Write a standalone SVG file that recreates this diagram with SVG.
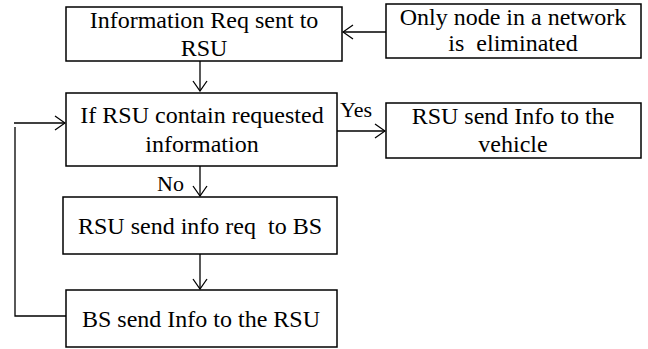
<svg xmlns="http://www.w3.org/2000/svg" width="648" height="349" viewBox="0 0 648 349">
  <style>
    .box { fill: #ffffff; stroke: #000000; stroke-width: 1.5; }
    .lbl { font-family: 'Liberation Serif', 'DejaVu Serif', serif; font-size: 24px; fill: #000000; text-anchor: middle; }
    .tag { font-family: 'Liberation Serif', 'DejaVu Serif', serif; font-size: 22px; fill: #000000; }
    .wire { fill: none; stroke: #000000; stroke-width: 1.3; }
  </style>
  <defs>
    <marker id="open-arrow" markerUnits="userSpaceOnUse" markerWidth="12" markerHeight="16" viewBox="0 0 12 16" refX="11" refY="8" orient="auto">
      <path d="M1,1 L11,8 L1,15" fill="none" stroke="#000000" stroke-width="1.3"/>
    </marker>
  </defs>
  <rect width="648" height="349" fill="#ffffff"/>

  <g id="connectors">
    <line class="wire" x1="386" y1="32" x2="343" y2="32" marker-end="url(#open-arrow)"/>
    <line class="wire" x1="200" y1="61" x2="200" y2="91" marker-end="url(#open-arrow)"/>
    <line class="wire" x1="337" y1="131" x2="385" y2="131" marker-end="url(#open-arrow)"/>
    <line class="wire" x1="200" y1="166" x2="200" y2="196" marker-end="url(#open-arrow)"/>
    <line class="wire" x1="200" y1="254" x2="200" y2="289" marker-end="url(#open-arrow)"/>
    <polyline class="wire" points="66,316 15,316 15,127"/>
    <line class="wire" x1="14" y1="123" x2="65" y2="123" marker-end="url(#open-arrow)"/>
    <text class="tag" x="340" y="117">Yes</text>
    <text class="tag" x="184" y="191" text-anchor="end">No</text>
  </g>

  <g id="info-req">
    <rect class="box" x="66" y="7" width="276" height="54"/>
    <text class="lbl" x="204" y="28">Information Req sent to</text>
    <text class="lbl" x="204" y="56">RSU</text>
  </g>

  <g id="node-eliminated">
    <rect class="box" x="386" y="4" width="255" height="54"/>
    <text class="lbl" x="513" y="25">Only node in a network</text>
    <text class="lbl" x="513" y="51" xml:space="preserve">is  eliminated</text>
  </g>

  <g id="rsu-check">
    <rect class="box" x="66" y="93" width="271" height="73"/>
    <text class="lbl" x="202" y="123">If RSU contain requested</text>
    <text class="lbl" x="202" y="152">information</text>
  </g>

  <g id="rsu-to-vehicle">
    <rect class="box" x="386" y="103" width="255" height="55"/>
    <text class="lbl" x="513" y="124">RSU send Info to the</text>
    <text class="lbl" x="513" y="152">vehicle</text>
  </g>

  <g id="rsu-to-bs">
    <rect class="box" x="63" y="197" width="274" height="57"/>
    <text class="lbl" x="200" y="234" xml:space="preserve">RSU send info req  to BS</text>
  </g>

  <g id="bs-to-rsu">
    <rect class="box" x="66" y="290" width="271" height="57"/>
    <text class="lbl" x="201" y="327">BS send Info to the RSU</text>
  </g>
</svg>
